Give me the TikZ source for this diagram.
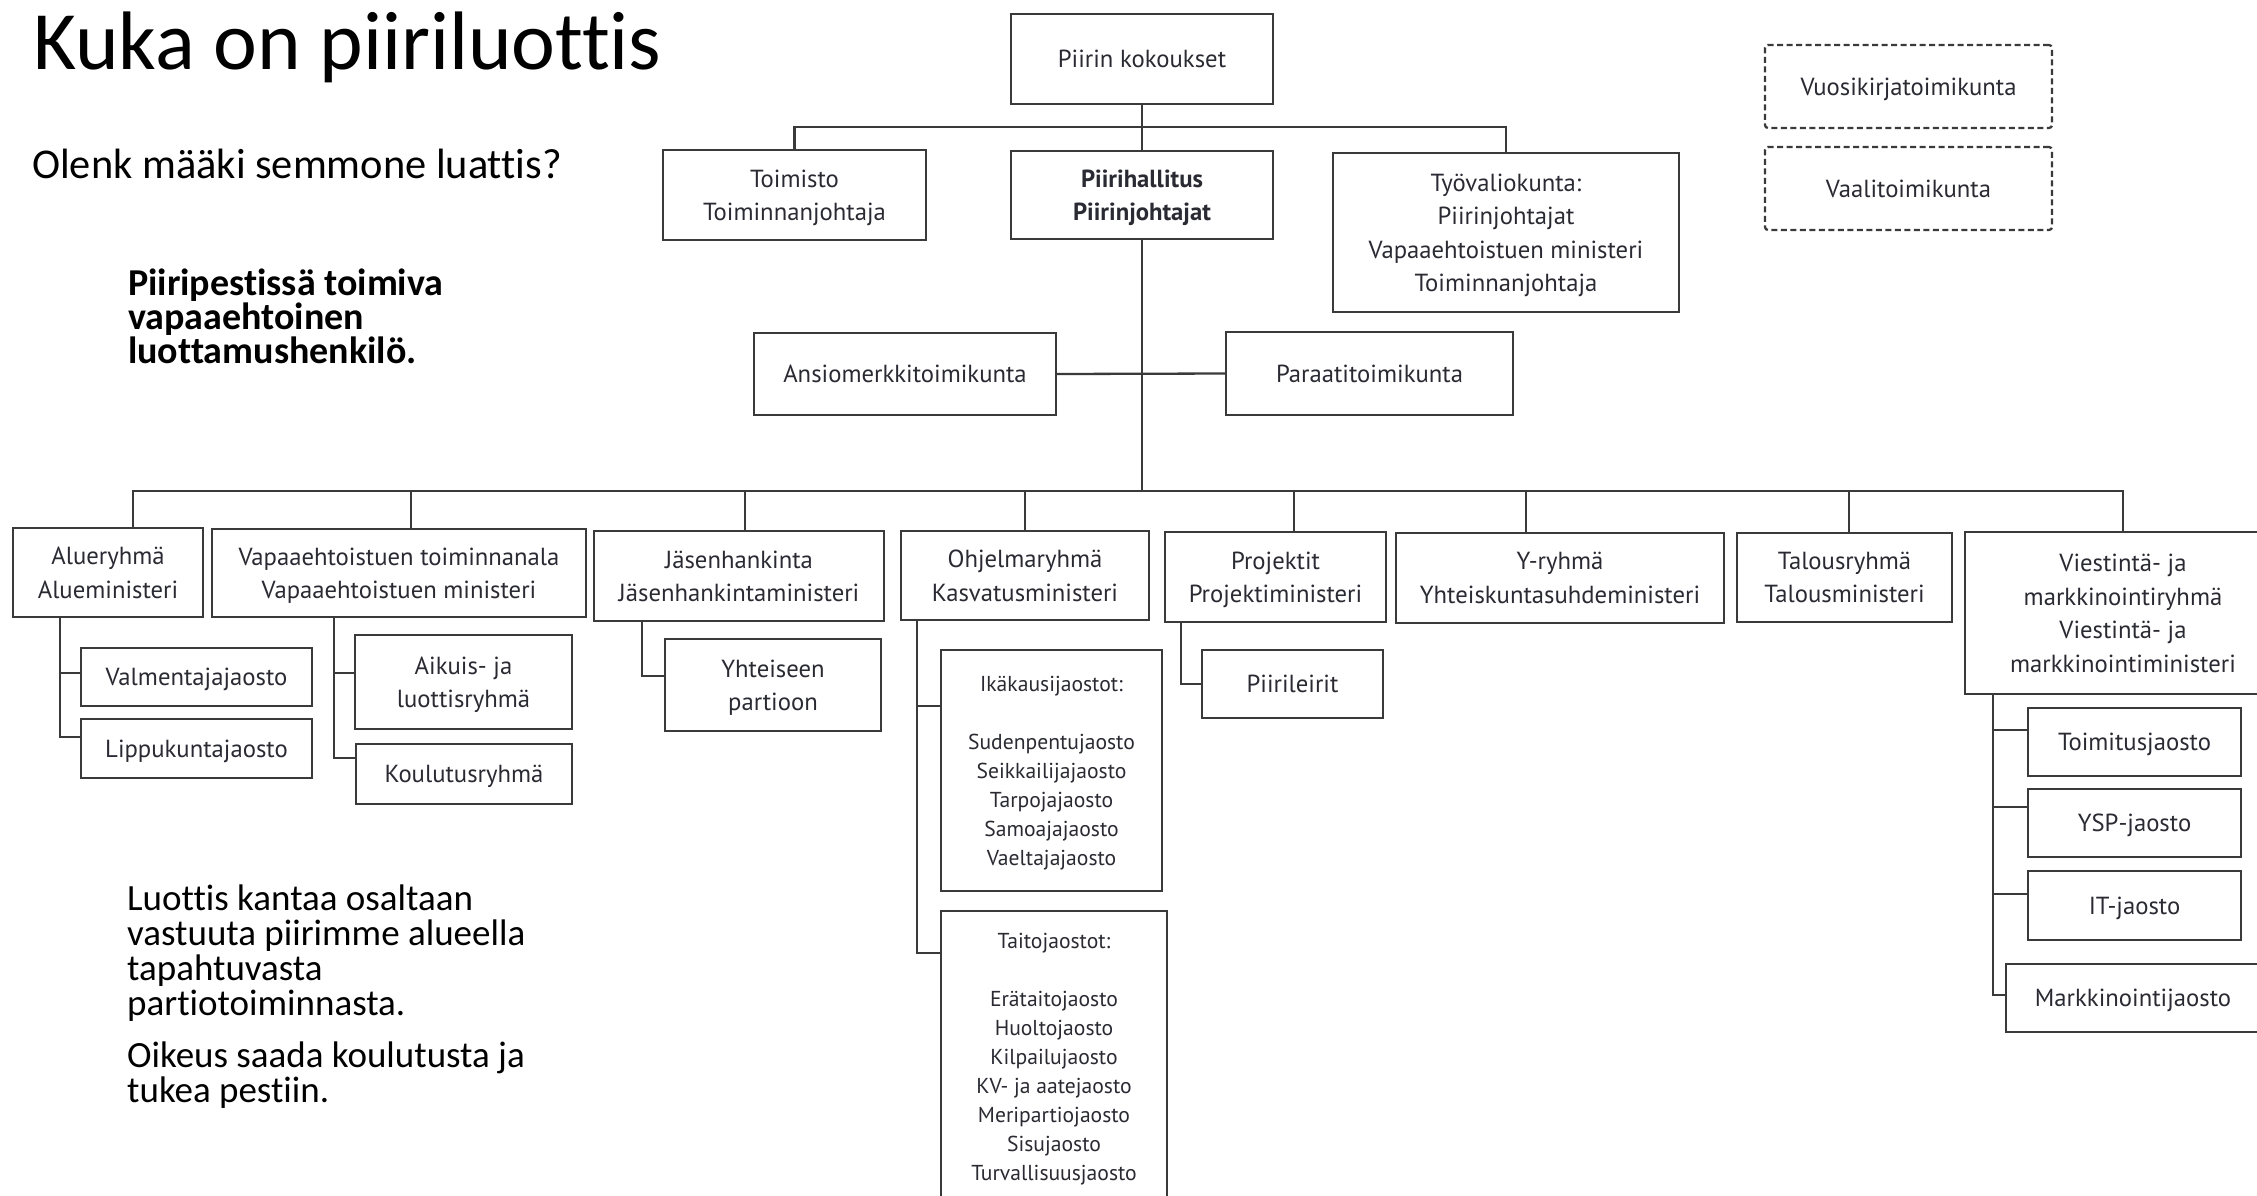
\documentclass[tikz,border=0pt]{standalone}
\usepackage{fontspec}
\setmainfont{Carlito}[Ligatures=NoCommon]
\newfontfamily\boxfont{PT Sans}
\definecolor{linec}{HTML}{3A3A3A}
\definecolor{boxtext}{HTML}{2A2A33}
\begin{document}
\begin{tikzpicture}[x=1pt,y=-1pt,
  box/.style={draw=linec, line width=2.3pt, fill=white, text=boxtext, align=center, inner sep=0pt, text depth=0pt,
    font=\boxfont\fontsize{24.7}{33.5}\selectfont},
  dbox/.style={box, dash pattern=on 6pt off 3.5pt, rounded corners=3pt},
  listbox/.style={box, font=\boxfont\fontsize{21.6}{29}\selectfont},
  conn/.style={draw=linec, line width=2.3pt},
  slide/.style={anchor=base west, align=left, inner sep=0pt, text=black}]
\useasboundingbox (0,0) rectangle (2257,1195);
\clip (0,0) rectangle (2257,1195);

% slide texts (base anchor = baseline of the last line)
\node[slide, font=\fontsize{83}{98}\selectfont] (title) at (33,69) {Kuka on piiriluottis};
\node[slide, font=\fontsize{42.4}{48}\selectfont] (olenk) at (32,178) {Olenk määki semmone luattis?};
\node[slide, font=\bfseries\fontsize{38}{34}\selectfont] (pesti) at (128,363) {Piiripestissä toimiva\\vapaaehtoinen\\luottamushenkilö.};
\node[slide, font=\fontsize{37}{34.7}\selectfont] (luottis) at (127,1015) {Luottis kantaa osaltaan\\vastuuta piirimme alueella\\tapahtuvasta\\partiotoiminnasta.};
\node[slide, font=\fontsize{37}{35}\selectfont] (oikeus) at (127,1102) {Oikeus saada koulutusta ja\\tukea pestiin.};

% top level
\node[box, minimum width=262pt, minimum height=90pt] (kok) at (1142,59) {Piirin kokoukset};
\node[box, minimum width=263pt, minimum height=90pt] (tom) at (794.5,195) {Toimisto\\Toiminnanjohtaja};
\node[box, minimum width=262pt, minimum height=88pt] (ph) at (1142,195) {\textbf{Piirihallitus}\\\textbf{Piirinjohtajat}};
\node[box, minimum width=346pt, minimum height=159pt] (tyo) at (1506,232.5) {Työvaliokunta:\\Piirinjohtajat\\Vapaaehtoistuen ministeri\\Toiminnanjohtaja};
\node[dbox, minimum width=287pt, minimum height=83pt] (vuo) at (1908.5,86.5) {Vuosikirjatoimikunta};
\node[dbox, minimum width=287pt, minimum height=83pt] (vaa) at (1908.5,188.5) {Vaalitoimikunta};
\node[box, minimum width=302pt, minimum height=82pt] (ans) at (905,374) {Ansiomerkkitoimikunta};
\node[box, minimum width=287pt, minimum height=83pt] (par) at (1369.5,373.5) {Paraatitoimikunta};

\coordinate (topbar) at (1142,127);
\coordinate (bus) at (1142,491);
\draw[conn] (kok.south) -- (ph.north);
\draw[conn] (tom.north) |- (topbar) -| (tyo.north);
\draw[conn] (ph.south) -- (bus);
\draw[conn] (ans.east) -- (par.west);

% second level
\node[box, minimum width=190pt, minimum height=89pt] (alu) at (108,572.5) {Alueryhmä\\Alueministeri};
\node[box, minimum width=374pt, minimum height=88pt] (vap) at (399,573) {Vapaaehtoistuen toiminnanala\\Vapaaehtoistuen ministeri};
\node[box, minimum width=290pt, minimum height=90pt] (jas) at (739,576) {Jäsenhankinta\\Jäsenhankintaministeri};
\node[box, minimum width=248pt, minimum height=89pt] (ohj) at (1025,575.5) {Ohjelmaryhmä\\Kasvatusministeri};
\node[box, minimum width=221pt, minimum height=90pt] (pro) at (1275.5,577) {Projektit\\Projektiministeri};
\node[box, minimum width=328pt, minimum height=90pt] (yry) at (1560,578) {Y-ryhmä\\Yhteiskuntasuhdeministeri};
\node[box, minimum width=215pt, minimum height=89pt] (tal) at (1844.5,577.5) {Talousryhmä\\Talousministeri};
\node[box, minimum width=316pt, minimum height=162pt] (vie) at (2123,613) {Viestintä- ja\\markkinointiryhmä\\Viestintä- ja\\markkinointiministeri};

\draw[conn] ([xshift=25pt]alu.north) |- (bus);
\draw[conn] (vie.north) |- (bus);
\draw[conn] ([xshift=12pt]vap.north) |- (bus);
\draw[conn] ([xshift=6pt]jas.north) |- (bus);
\draw[conn] (ohj.north) |- (bus);
\draw[conn] ([xshift=18.5pt]pro.north) |- (bus);
\draw[conn] ([xshift=-34pt]yry.north) |- (bus);
\draw[conn] ([xshift=4.5pt]tal.north) |- (bus);

% third level
\node[box, minimum width=231pt, minimum height=58pt] (val) at (196.5,677) {Valmentajajaosto};
\node[box, minimum width=231pt, minimum height=59pt] (lip) at (196.5,748.5) {Lippukuntajaosto};
\node[box, minimum width=217pt, minimum height=94pt] (aik) at (463.5,682) {Aikuis- ja\\luottisryhmä};
\node[box, minimum width=216pt, minimum height=60pt] (kou) at (464,774) {Koulutusryhmä};
\node[box, minimum width=216pt, minimum height=92pt] (yht) at (773,685) {Yhteiseen\\partioon};
\node[listbox, minimum width=221pt, minimum height=241pt] (ika) at (1051.5,770.5) {Ikäkausijaostot:\\[29pt]Sudenpentujaosto\\Seikkailijajaosto\\Tarpojajaosto\\Samoajajaosto\\Vaeltajajaosto};
\node[listbox, minimum width=226pt, anchor=north, inner ysep=22pt, text depth=6pt] (tai) at (1054,910) {Taitojaostot:\\[29pt]Erätaitojaosto\\Huoltojaosto\\Kilpailujaosto\\KV- ja aatejaosto\\Meripartiojaosto\\Sisujaosto\\Turvallisuusjaosto};
\node[box, minimum width=181pt, minimum height=68pt] (pii) at (1292.5,684) {Piirileirit};
\node[box, minimum width=213pt, minimum height=68pt] (toi) at (2134.5,742) {Toimitusjaosto};
\node[box, minimum width=213pt, minimum height=68pt] (ysp) at (2134.5,823) {YSP-jaosto};
\node[box, minimum width=213pt, minimum height=69pt] (itj) at (2134.5,905.5) {IT-jaosto};
\node[box, minimum width=254pt, minimum height=68pt] (mar) at (2133,998) {Markkinointijaosto};

\draw[conn] ([xshift=-48pt]alu.south) |- ([yshift=4pt]val.west);
\draw[conn] ([xshift=-48pt]alu.south) |- ([yshift=11.5pt]lip.west);
\draw[conn] ([xshift=-65pt]vap.south) |- ([yshift=9pt]aik.west);
\draw[conn] ([xshift=-65pt]vap.south) |- ([yshift=16pt]kou.west);
\draw[conn] ([xshift=-97pt]jas.south) |- ([yshift=9pt]yht.west);
\draw[conn] ([xshift=-108pt]ohj.south) |- ([yshift=-57pt]ika.north west);
\draw[conn] ([xshift=-108pt]ohj.south) |- ([yshift=-43pt]tai.north west);
\draw[conn] ([xshift=-94.5pt]pro.south) |- (pii.west);
\draw[conn] ([xshift=-130pt]vie.south) |- ([yshift=12pt]toi.west);
\draw[conn] ([xshift=-130pt]vie.south) |- ([yshift=16pt]ysp.west);
\draw[conn] ([xshift=-130pt]vie.south) |- ([yshift=11.5pt]itj.west);
\draw[conn] ([xshift=-130pt]vie.south) |- ([yshift=3pt]mar.west);
\end{tikzpicture}
\end{document}
